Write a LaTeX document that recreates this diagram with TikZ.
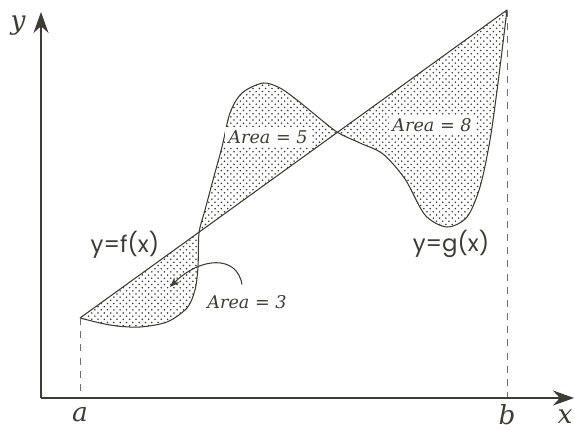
\documentclass[tikz,border=0pt]{standalone}
\usepackage{fontspec}
\usepackage{tikz}
\usetikzlibrary{arrows.meta,patterns,positioning}
\newfontfamily\funcfont{Poppins}
\newfontfamily\labelfont{DejaVu Serif}
\definecolor{inkgray}{RGB}{60,60,52}
\definecolor{dashgray}{RGB}{110,110,110}
\pgfdeclarepatternformonly{fine dots}{\pgfqpoint{-1pt}{-1pt}}{\pgfqpoint{3pt}{3pt}}{\pgfqpoint{3.6pt}{3.6pt}}{
  \pgfpathcircle{\pgfqpoint{0pt}{0pt}}{.5pt}
  \pgfpathcircle{\pgfqpoint{1.8pt}{1.8pt}}{.5pt}
  \pgfusepath{fill}}

\begin{document}
\begin{tikzpicture}[
  x=0.02cm, y=0.02cm,
  every node/.style={text=inkgray, inner sep=2pt},
  axis/.style={draw=inkgray, -{Stealth[length=0.42cm, width=0.3cm]}},
  guide/.style={draw=dashgray, line width=0.5pt, dash pattern=on 4pt off 3.5pt},
  curve/.style={draw=inkgray, line width=0.6pt},
  pointer/.style={draw=inkgray, line width=0.6pt, -{Stealth[length=2mm]}},
  arealabel/.style={font=\fontsize{10}{12}\selectfont\labelfont\itshape},
  axislabel/.style={font=\fontsize{15}{17}\selectfont\labelfont\itshape},
  funclabel/.style={font=\fontsize{13}{15}\selectfont\funcfont}
]
\useasboundingbox (0,0) rectangle (575,430);

\coordinate (o) at (41,32);
\coordinate (ytip) at (41,418);
\coordinate (xtip) at (574,32);
\coordinate (pa) at (80,112);
\coordinate (pb) at (507,420);

% shaded region between the line and g
\fill[pattern=fine dots, pattern color=inkgray]
  plot[smooth] coordinates {(80,112) (100,107) (117,104) (140,103) (167,108) (187,122) (195,140) (198,163) (199,197) (205,220) (213,250) (222,283) (230,317) (242,337) (263,347) (280,342) (297,330) (313,317) (337,298) (360,287) (383,276) (405,251) (425,215) (447,203) (467,213) (480,243) (490,290) (498,347) (507,420)} -- cycle;
\draw[curve] plot[smooth] coordinates {(80,112) (100,107) (117,104) (140,103) (167,108) (187,122) (195,140) (198,163) (199,197) (205,220) (213,250) (222,283) (230,317) (242,337) (263,347) (280,342) (297,330) (313,317) (337,298) (360,287) (383,276) (405,251) (425,215) (447,203) (467,213) (480,243) (490,290) (498,347) (507,420)};
\draw[curve] (pa) -- (pb);

\draw[guide] (pa) -- (pa |- o);
\draw[guide] (pb) -- (pb |- o);

\draw[axis, line width=0.8pt] (o) -- (ytip);
\draw[axis, line width=1.2pt] (o) -- (xtip);

\node[axislabel] (ylabel) at (18,404) {y};
\node[axislabel] (xlabel) at (565,13) {x};
\node[axislabel] (alabel) at (80,15) {a};
\node[axislabel] (blabel) at (507,15) {b};

\node[funclabel] (flabel) at (125,185) {y=f(x)};
\node[funclabel] (glabel) at (451,186) {y=g(x)};

\node[arealabel, fill=white] (area5) at (268,293) {Area = 5};
\node[arealabel, fill=white] (area8) at (432,305) {Area = 8};
\node[arealabel] (area3) at (247,128) {Area = 3};

\coordinate (a3tip) at (170,143);
\draw[pointer] ([shift={(-5,7)}]area3.north) .. controls +(-5,30) and +(30,30) .. (a3tip);
\end{tikzpicture}
\end{document}
